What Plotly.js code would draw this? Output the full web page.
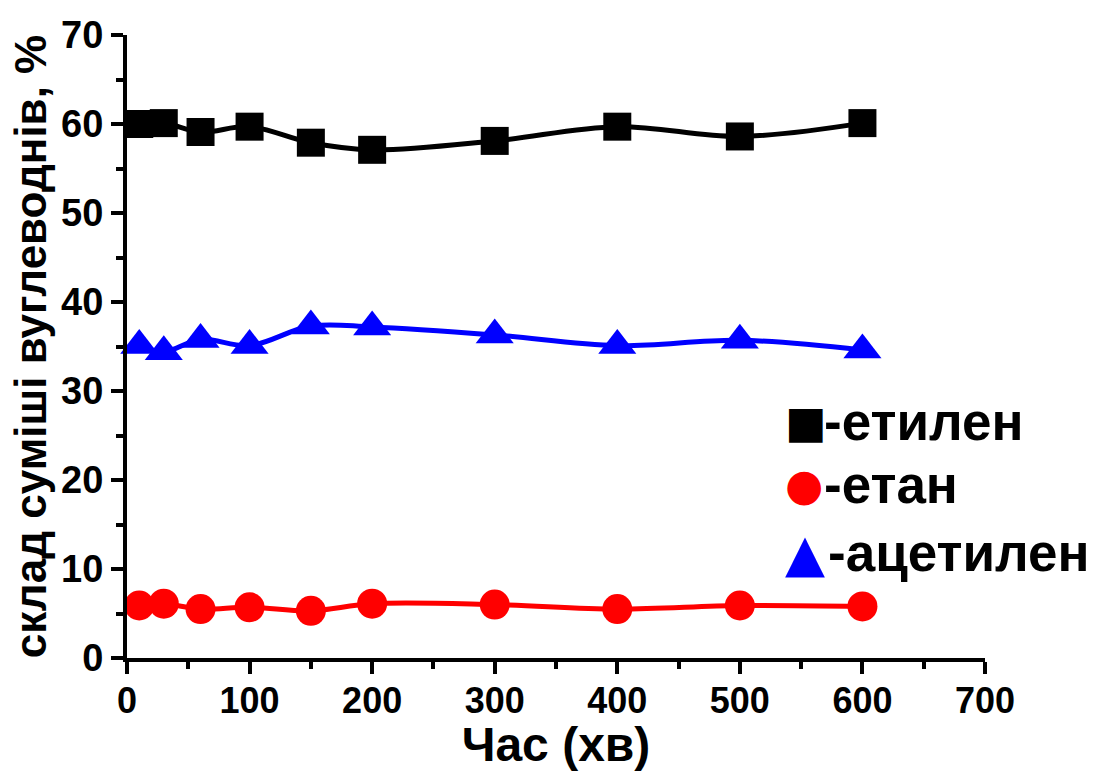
<!DOCTYPE html>
<html><head><meta charset="utf-8">
<script src="https://cdn.plot.ly/plotly-3.0.1.min.js"></script>
<style>body{margin:0;background:#fff}#c{width:1112px;height:771px}</style>
</head><body><div id="c"></div>
<script>
const timeMin = [10, 30, 60, 100, 150, 200, 300, 400, 500, 600];
const ethylene = [60.0, 60.1, 59.1, 59.7, 57.9, 57.1, 58.1, 59.7, 58.6, 60.1];
const ethane = [5.9, 6.1, 5.5, 5.7, 5.3, 6.1, 6.0, 5.5, 5.9, 5.8];
const acetylene = [35.1, 34.4, 35.8, 35.1, 37.3, 37.2, 36.3, 35.1, 35.7, 34.6];
const seriesNames = ['-етилен', '-етан', '-ацетилен'];
const legendSymbols = ['■', '●', '▲'];
const xTitle = 'Час (хв)';
const yTitle = 'склад суміші вуглеводнів, %';

const F = 'Liberation Sans, Arial, sans-serif';
const colors = ['#000000', '#ff0000', '#0000ff'];
function tr(y, color, symbol, size, name) {
  return {x: timeMin, y: y, mode: 'lines+markers', name: name, cliponaxis: false,
    line: {color: color, width: 5, shape: 'spline', smoothing: 1},
    marker: {color: color, symbol: symbol, size: size}};
}
const data = [
  tr(ethylene, colors[0], 'square', 28, seriesNames[0]),
  tr(ethane, colors[1], 'circle', 30, seriesNames[1]),
  tr(acetylene, colors[2], 'triangle-up', 33, seriesNames[2])
];
const axisCommon = {showgrid: false, zeroline: false, showline: true, linecolor: '#000', linewidth: 4,
  ticks: 'outside', ticklen: 12, tickwidth: 4, tickcolor: '#000'};
const legendY = [0.379, 0.278, 0.169];
const symSizes = [44, 44, 52];
const annotations = [];
for (let i = 0; i < 3; i++) {
  annotations.push({xref: 'paper', yref: 'paper', x: 0.765, y: legendY[i], xanchor: 'left', yanchor: 'middle',
    showarrow: false, text: legendSymbols[i], font: {family: 'DejaVu Sans, sans-serif', size: symSizes[i], color: colors[i]}});
  annotations.push({xref: 'paper', yref: 'paper', x: i === 2 ? 0.815 : 0.81, y: legendY[i], xanchor: 'left', yanchor: 'middle',
    showarrow: false, text: '<b>' + seriesNames[i] + '</b>', font: {family: F, size: 53, color: '#000'}});
}
const layout = {
  width: 1112, height: 771, showlegend: false,
  paper_bgcolor: '#fff', plot_bgcolor: '#fff',
  margin: {l: 127, r: 127, t: 35, b: 113},
  xaxis: Object.assign({}, axisCommon, {range: [0, 700], dtick: 100, tick0: 0, ticklabelstandoff: -4,
    tickfont: {family: F, size: 36, color: '#000', weight: 'bold'},
    minor: {ticks: 'outside', ticklen: 7, tickwidth: 4, tickcolor: '#000', dtick: 50},
    title: {text: '<b>' + xTitle + '</b>', font: {family: F, size: 48, color: '#000'}, standoff: 4}}),
  yaxis: Object.assign({}, axisCommon, {range: [0, 70], dtick: 10, tick0: 0,
    tickfont: {family: F, size: 38, color: '#000', weight: 'bold'},
    minor: {ticks: 'outside', ticklen: 7, tickwidth: 4, tickcolor: '#000', dtick: 5},
    title: {text: '<b>' + yTitle + '</b>', font: {family: F, size: 44, color: '#000'}, standoff: 2}}),
  annotations: annotations
};
Plotly.newPlot('c', data, layout, {displayModeBar: false});
</script></body></html>
